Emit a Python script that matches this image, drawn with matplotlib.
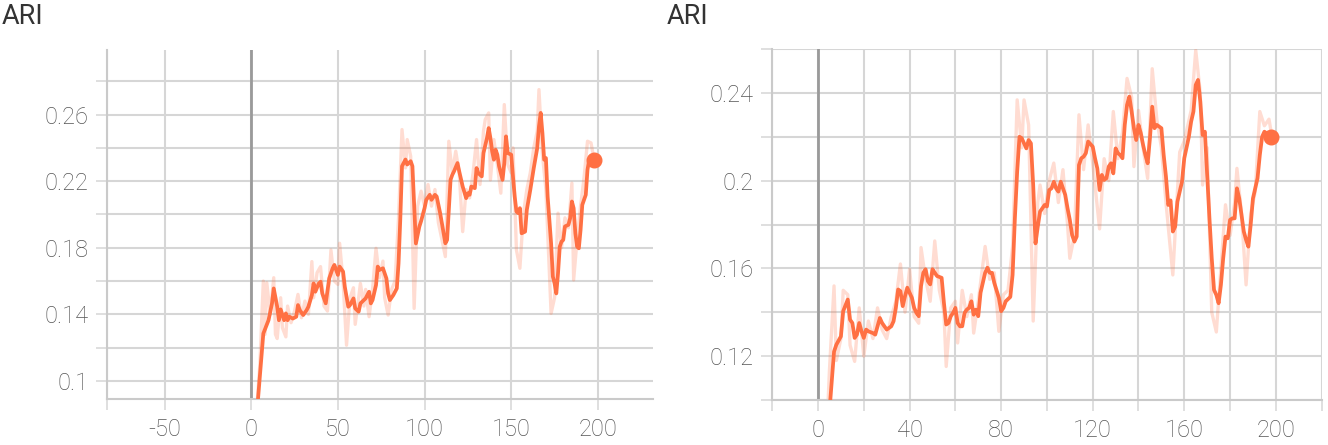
"""
ARI curves for two runs, drawn the way TensorBoard shows scalars:
faint raw values under a smoothed line, last point marked with a dot.
"""

import matplotlib
matplotlib.use("Agg")
import matplotlib.pyplot as plt

plt.rcParams["font.family"] = ["Roboto", "DejaVu Sans"]

# Left run
left_steps = [3, 4, 7, 10, 12, 13, 15, 16, 17, 19, 20, 21, 22, 24, 26, 27, 28, 30,
              32, 33, 35, 36, 37, 39, 40, 41, 43, 45, 47, 48, 50, 51, 53, 54, 56,
              57, 59, 60, 62, 63, 65, 66, 68, 69, 70, 72, 73, 74, 76, 78, 79, 80,
              82, 84, 85, 86, 87, 89, 90, 92, 93, 95, 97, 98, 100, 101, 103, 104,
              106, 107, 109, 111, 112, 113, 115, 116, 117, 119, 120, 122, 124, 125,
              126, 127, 129, 130, 131, 133, 134, 136, 137, 138, 139, 140, 141, 142,
              143, 145, 146, 147, 148, 150, 151, 152, 153, 154, 155, 156, 158, 159,
              161, 163, 165, 166, 167, 168, 169, 170, 171, 173, 174, 175, 176, 177,
              178, 179, 180, 181, 183, 184, 185, 186, 187, 188, 189, 190, 191, 193,
              194, 195, 198]
left_ari = [0.075, 0.090, 0.1285, 0.1365, 0.1466, 0.1556, 0.1446, 0.1365, 0.143,
            0.1365, 0.1406, 0.1365, 0.1386, 0.1375, 0.1386, 0.1456, 0.1426, 0.1396,
            0.1426, 0.1446, 0.1516, 0.1586, 0.1536, 0.1586, 0.1596, 0.1526, 0.1466,
            0.1616, 0.1677, 0.1697, 0.1637, 0.1687, 0.1657, 0.1566, 0.1446, 0.1456,
            0.1496, 0.1436, 0.1416, 0.1466, 0.1486, 0.1496, 0.1536, 0.1466, 0.1486,
            0.1576, 0.1687, 0.1667, 0.1677, 0.1616, 0.1526, 0.1486, 0.1516, 0.1556,
            0.1707, 0.197, 0.229, 0.233, 0.230, 0.232, 0.229, 0.1826, 0.1927, 0.196,
            0.2038, 0.2088, 0.2118, 0.2088, 0.2118, 0.2108, 0.2008, 0.1887, 0.1827,
            0.1847, 0.2208, 0.2238, 0.2259, 0.2309, 0.2259, 0.2168, 0.2098, 0.2128,
            0.2118, 0.2168, 0.2158, 0.2279, 0.2249, 0.2229, 0.2369, 0.2459, 0.2519,
            0.2459, 0.2379, 0.2329, 0.2389, 0.2359, 0.2289, 0.2208, 0.2309, 0.2469,
            0.2369, 0.2359, 0.2229, 0.2108, 0.2018, 0.2008, 0.2038, 0.1887, 0.1897,
            0.2028, 0.2148, 0.2279, 0.2399, 0.2529, 0.2610, 0.2489, 0.2329, 0.2339,
            0.2108, 0.1827, 0.1627, 0.1587, 0.1526, 0.1647, 0.1807, 0.1837, 0.1847,
            0.1928, 0.1938, 0.1978, 0.2078, 0.2038, 0.1887, 0.1807, 0.1797, 0.1907,
            0.2058, 0.2118, 0.2269, 0.2329, 0.2329]
left_raw_steps = [3, 5, 7, 8, 9, 11, 13, 14, 15, 17, 18, 20, 21, 23, 25, 27, 29, 31,
                  33, 35, 36, 38, 40, 42, 44, 46, 48, 50, 51, 53, 55, 57, 59, 60, 62,
                  63, 65, 66, 68, 70, 72, 74, 76, 77, 79, 81, 83, 85, 87, 89, 90, 92,
                  94, 96, 98, 100, 102, 104, 106, 108, 110, 112, 114, 116, 118, 120,
                  122, 124, 126, 128, 130, 132, 134, 135, 137, 138, 140, 142, 144, 146,
                  148, 150, 151, 153, 155, 157, 159, 161, 163, 165, 166, 168, 170, 171,
                  173, 175, 177, 179, 181, 183, 185, 186, 188, 190, 192, 194, 196, 198]
left_raw_ari = [0.08, 0.11, 0.160, 0.128, 0.159, 0.140, 0.162, 0.128, 0.1255, 0.150,
                0.132, 0.1265, 0.145, 0.135, 0.142, 0.152, 0.138, 0.148, 0.140, 0.1717,
                0.150, 0.165, 0.1687, 0.145, 0.142, 0.1787, 0.160, 0.158, 0.1827, 0.160,
                0.1215, 0.150, 0.156, 0.134, 0.150, 0.1586, 0.145, 0.155, 0.1386, 0.155,
                0.1797, 0.162, 0.172, 0.150, 0.1396, 0.155, 0.160, 0.198, 0.251, 0.228,
                0.245, 0.235, 0.1436, 0.205, 0.214, 0.205, 0.218, 0.205, 0.215, 0.195,
                0.185, 0.1747, 0.244, 0.225, 0.238, 0.225, 0.1897, 0.215, 0.210, 0.225,
                0.245, 0.218, 0.250, 0.257, 0.261, 0.2208, 0.245, 0.230, 0.2128, 0.266,
                0.230, 0.225, 0.240, 0.1787, 0.1677, 0.200, 0.215, 0.225, 0.240, 0.250,
                0.275, 0.236, 0.215, 0.190, 0.1406, 0.150, 0.2008, 0.180, 0.198, 0.192,
                0.2188, 0.1607, 0.185, 0.205, 0.222, 0.244, 0.243, 0.232]

# Right run
right_steps = [4, 5, 7, 8, 10, 11, 13, 14, 15, 16, 17, 18, 19, 20, 21, 22, 24, 25, 26,
               27, 28, 29, 30, 32, 33, 34, 35, 36, 37, 38, 39, 41, 42, 43, 44, 45, 46,
               47, 48, 49, 50, 51, 52, 54, 55, 56, 57, 58, 59, 60, 61, 62, 63, 64, 65,
               66, 67, 68, 69, 70, 71, 73, 74, 75, 76, 77, 79, 80, 81, 82, 84, 85, 86,
               87, 88, 89, 91, 92, 93, 94, 95, 96, 97, 99, 100, 101, 102, 103, 104,
               105, 106, 108, 109, 110, 111, 112, 113, 114, 115, 116, 117, 118, 120,
               121, 122, 123, 124, 125, 126, 127, 128, 129, 130, 131, 132, 133, 134,
               135, 136, 137, 138, 139, 140, 141, 142, 143, 144, 145, 146, 147, 148,
               150, 151, 152, 153, 154, 155, 156, 157, 159, 160, 162, 163, 164, 165,
               166, 167, 168, 169, 170, 171, 172, 173, 174, 175, 176, 177, 178, 179,
               180, 181, 182, 183, 184, 186, 187, 188, 189, 190, 191, 192, 193, 194,
               195, 198]
right_ari = [0.085, 0.095, 0.1221, 0.1252, 0.129, 0.1405, 0.1458, 0.1366, 0.1351,
             0.1283, 0.1298, 0.1351, 0.1313, 0.1283, 0.1321, 0.1313, 0.1305, 0.1298,
             0.1336, 0.1374, 0.1351, 0.1336, 0.1321, 0.1336, 0.1359, 0.142, 0.1504,
             0.1496, 0.1428, 0.1473, 0.1512, 0.1466, 0.142, 0.1397, 0.1382, 0.1519,
             0.158, 0.1596, 0.1542, 0.1527, 0.1596, 0.158, 0.1565, 0.1557, 0.1443,
             0.1344, 0.1351, 0.1382, 0.1397, 0.142, 0.1351, 0.1336, 0.1336, 0.1397,
             0.1412, 0.142, 0.145, 0.1389, 0.1412, 0.1382, 0.1489, 0.158, 0.1603,
             0.158, 0.158, 0.1534, 0.1466, 0.1405, 0.142, 0.145, 0.147, 0.157, 0.1828,
             0.2041, 0.22, 0.2193, 0.2147, 0.2185, 0.217, 0.198, 0.1714, 0.179, 0.1859,
             0.1889, 0.1882, 0.1957, 0.1965, 0.1995, 0.1965, 0.195, 0.1995, 0.1935,
             0.1874, 0.1821, 0.1752, 0.1722, 0.1745, 0.2071, 0.2102, 0.2109, 0.2125,
             0.2178, 0.2155, 0.2102, 0.2056, 0.1957, 0.2026, 0.2003, 0.2011, 0.2064,
             0.2079, 0.2033, 0.2147, 0.2125, 0.2117, 0.2102, 0.2254, 0.2345, 0.2383,
             0.2315, 0.2239, 0.2185, 0.2254, 0.2216, 0.2163, 0.2117, 0.2079, 0.2193,
             0.2337, 0.2239, 0.2254, 0.2239, 0.2117, 0.2018, 0.1889, 0.1910, 0.1768,
             0.179, 0.1904, 0.1995, 0.2102, 0.22, 0.2269, 0.2315, 0.2436, 0.2459, 0.236,
             0.2208, 0.2223, 0.2026, 0.1828, 0.1646, 0.1502, 0.1479, 0.1441, 0.1525,
             0.1646, 0.1745, 0.1737, 0.1821, 0.1828, 0.1828, 0.1965, 0.1919, 0.1768,
             0.173, 0.1699, 0.1798, 0.1919, 0.1965, 0.2011, 0.2117, 0.22, 0.2223, 0.22]
right_raw_steps = [4, 5, 7, 8, 10, 11, 13, 14, 16, 18, 20, 22, 24, 26, 28, 30, 32, 34,
                   36, 38, 40, 42, 44, 45, 47, 49, 51, 53, 55, 56, 58, 60, 61, 63, 65,
                   67, 68, 70, 73, 75, 77, 79, 81, 83, 85, 87, 89, 90, 92, 94, 96, 97,
                   99, 101, 103, 105, 107, 109, 110, 112, 114, 116, 118, 120, 123, 125,
                   127, 129, 131, 133, 135, 137, 138, 140, 142, 144, 146, 148, 150, 152,
                   155, 157, 158, 160, 163, 165, 167, 168, 170, 172, 174, 176, 178, 180,
                   182, 183, 185, 187, 189, 191, 193, 195, 197, 198]
right_raw_ari = [0.09, 0.1137, 0.152, 0.118, 0.128, 0.150, 0.148, 0.125, 0.1176, 0.142,
                 0.12, 0.136, 0.128, 0.142, 0.132, 0.128, 0.138, 0.145, 0.162, 0.140,
                 0.1596, 0.138, 0.135, 0.1695, 0.155, 0.145, 0.1725, 0.150, 0.140,
                 0.1153, 0.142, 0.145, 0.126, 0.150, 0.138, 0.148, 0.1305, 0.145, 0.170,
                 0.155, 0.158, 0.1313, 0.148, 0.150, 0.170, 0.2368, 0.215, 0.2368,
                 0.2254, 0.136, 0.190, 0.198, 0.185, 0.200, 0.208, 0.190, 0.205, 0.180,
                 0.1646, 0.175, 0.230, 0.205, 0.2254, 0.208, 0.178, 0.210, 0.200, 0.2315,
                 0.210, 0.222, 0.2466, 0.238, 0.2064, 0.232, 0.215, 0.201, 0.251, 0.228,
                 0.215, 0.190, 0.157, 0.195, 0.213, 0.218, 0.232, 0.2595, 0.240, 0.198,
                 0.215, 0.140, 0.131, 0.160, 0.189, 0.175, 0.190, 0.2056, 0.185, 0.1525,
                 0.185, 0.195, 0.2315, 0.225, 0.228, 0.222]

# Axis ticks (value, label)
left_xticks = [-83, -50, 0, 50, 100, 150, 200]
left_xlabels = ["", "-50", "0", "50", "100", "150", "200"]
left_yticks = [0.10, 0.12, 0.14, 0.16, 0.18, 0.20, 0.22, 0.24, 0.26, 0.28]
left_ylabels = ["0.1", "", "0.14", "", "0.18", "", "0.22", "", "0.26", ""]

right_xticks = [-20, 0, 20, 40, 60, 80, 100, 120, 140, 160, 180, 200, 220]
right_xlabels = ["", "0", "", "40", "", "80", "", "120", "", "160", "", "200", ""]
right_yticks = [0.10, 0.12, 0.14, 0.16, 0.18, 0.20, 0.22, 0.24, 0.26]
right_ylabels = ["", "0.12", "", "0.16", "", "0.2", "", "0.24", ""]

LINE = "#ff7043"
GRID = "#d6d6d6"
TEXT = "#555555"


def draw_panel(ax, steps, ari, raw_steps, raw_ari, xlim, ylim,
               xticks, xlabels, yticks, ylabels):
    ax.set_xlim(*xlim)
    ax.set_ylim(*ylim)
    ax.set_xticks(xticks)
    ax.set_xticklabels(xlabels)
    ax.set_yticks(yticks)
    ax.set_yticklabels(ylabels)

    ax.grid(True, color=GRID, linewidth=1.5)
    ax.set_axisbelow(True)
    for side in ("top", "right"):
        ax.spines[side].set_visible(False)
    for side in ("left", "bottom"):
        ax.spines[side].set_color("#cacaca")
        ax.spines[side].set_linewidth(1.5)

    ax.tick_params(length=7.6, width=1.1, color=GRID, labelcolor=TEXT,
                   labelsize=17, pad=6)
    for lab in ax.get_xticklabels() + ax.get_yticklabels():
        lab.set_fontweight("light")

    # zero line drawn by TensorBoard
    ax.axvline(0, color="#9a9a9a", linewidth=2, zorder=1.5)

    ax.plot(raw_steps, raw_ari, color=LINE, alpha=0.24, linewidth=2.4, zorder=2)
    ax.plot(steps, ari, color=LINE, linewidth=2.7, zorder=3,
            solid_joinstyle="round")
    ax.plot(steps[-1], ari[-1], "o", color=LINE, markersize=10.5, zorder=4,
            clip_on=False)


fig = plt.figure(figsize=(13.28, 4.45), dpi=100)
ax_left = fig.add_axes([0.0808, 0.1027, 0.4112, 0.7850])
ax_right = fig.add_axes([0.5815, 0.1011, 0.4137, 0.7888])

draw_panel(ax_left, left_steps, left_ari, left_raw_steps, left_raw_ari,
           (-83, 232), (0.089, 0.2988),
           left_xticks, left_xlabels, left_yticks, left_ylabels)
draw_panel(ax_right, right_steps, right_ari, right_raw_steps, right_raw_ari,
           (-20, 220), (0.10, 0.26),
           right_xticks, right_xlabels, right_yticks, right_ylabels)

fig.text(2 / 1328, 1 - 24 / 445, "ARI", fontsize=19.5, color="#333333",
         va="baseline", ha="left")
fig.text(667 / 1328, 1 - 24 / 445, "ARI", fontsize=19.5, color="#333333",
         va="baseline", ha="left")

fig.savefig("out.png", dpi=100)
